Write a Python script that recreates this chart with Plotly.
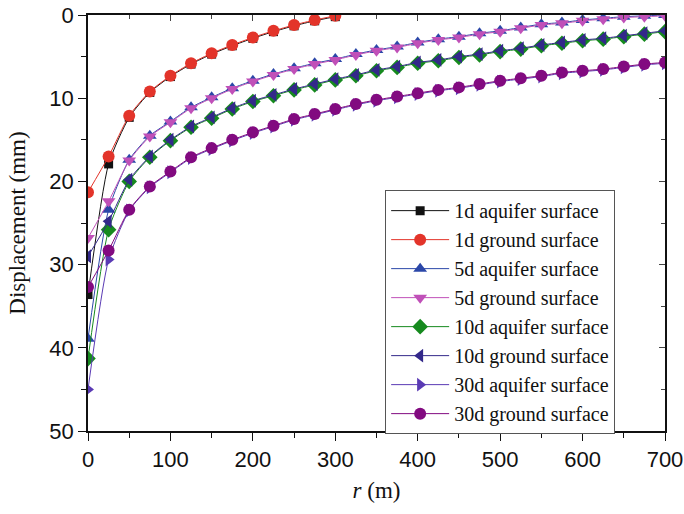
import plotly.graph_objects as go

# radial distance (m)
r_full = [0, 25, 50, 75, 100, 125, 150, 175, 200, 225, 250, 275, 300, 325, 350,
          375, 400, 425, 450, 475, 500, 525, 550, 575, 600, 625, 650, 675, 700]
r_1d = r_full[:13]

# displacement (mm)
d1_aquifer = [33.6, 17.9, 12.3, 9.3, 7.4, 5.9, 4.7, 3.7, 2.8, 2.0, 1.3, 0.7, 0.2]
d1_ground = [21.3, 17.0, 12.1, 9.2, 7.3, 5.8, 4.6, 3.6, 2.7, 1.9, 1.2, 0.6, 0.1]

d5_aquifer = [38.9, 23.4, 17.4, 14.5, 12.8, 11.1, 9.9, 8.8, 7.9, 7.1, 6.4, 5.8, 5.3,
              4.7, 4.2, 3.8, 3.3, 2.9, 2.6, 2.2, 1.9, 1.5, 1.1, 0.9, 0.6, 0.4, 0.2, 0.1, 0.0]
d5_ground = [26.8, 22.4, 17.5, 14.6, 12.9, 11.2, 10.0, 8.9, 8.0, 7.2, 6.5, 5.9, 5.4,
             4.8, 4.3, 3.9, 3.4, 3.0, 2.7, 2.3, 2.0, 1.6, 1.2, 1.0, 0.7, 0.5, 0.3, 0.2, 0.1]

d10_aquifer = [41.3, 25.8, 20.0, 17.1, 15.1, 13.5, 12.4, 11.3, 10.4, 9.7, 9.0, 8.4, 7.8,
               7.3, 6.7, 6.3, 5.8, 5.5, 5.1, 4.8, 4.4, 4.1, 3.7, 3.4, 3.1, 2.9, 2.6, 2.3, 2.0]
d10_ground = [29.0, 24.8, 19.8, 17.0, 15.0, 13.4, 12.3, 11.2, 10.3, 9.6, 8.9, 8.3, 7.7,
              7.2, 6.6, 6.2, 5.7, 5.4, 5.0, 4.7, 4.3, 4.0, 3.6, 3.3, 3.0, 2.8, 2.5, 2.2, 1.9]

d30_aquifer = [45.0, 29.4, 23.5, 20.7, 18.9, 17.2, 16.1, 15.1, 14.2, 13.4, 12.6, 12.0, 11.4,
               10.8, 10.3, 9.9, 9.5, 9.1, 8.8, 8.4, 8.0, 7.7, 7.4, 7.0, 6.8, 6.6, 6.3, 6.0, 5.8]
d30_ground = [32.7, 28.3, 23.4, 20.6, 18.8, 17.1, 16.0, 15.0, 14.1, 13.3, 12.5, 11.9, 11.3,
              10.7, 10.2, 9.8, 9.4, 9.0, 8.7, 8.3, 7.9, 7.6, 7.3, 6.9, 6.7, 6.5, 6.2, 5.9, 5.7]

series = [
    ("1d aquifer surface", r_1d, d1_aquifer, "#111111", "square", 9),
    ("1d ground surface", r_1d, d1_ground, "#e3342a", "circle", 12),
    ("5d aquifer surface", r_full, d5_aquifer, "#2b47a8", "triangle-up", 12),
    ("5d ground surface", r_full, d5_ground, "#c050b8", "triangle-down", 12),
    ("10d aquifer surface", r_full, d10_aquifer, "#168a1e", "diamond", 12),
    ("10d ground surface", r_full, d10_ground, "#33288a", "triangle-left", 12),
    ("30d aquifer surface", r_full, d30_aquifer, "#5a3ab4", "triangle-right", 12),
    ("30d ground surface", r_full, d30_ground, "#820a80", "circle", 12),
]

fig = go.Figure()
for name, xs, ys, color, symbol, size in series:
    fig.add_trace(go.Scatter(
        x=xs, y=ys, name=name, mode="lines+markers",
        line=dict(color=color, width=1, shape="spline", smoothing=0.6),
        marker=dict(symbol=symbol, size=size, color=color, line=dict(width=0)),
    ))

# empty trace so the mirrored top/right axes are drawn
fig.add_trace(go.Scatter(x=[], y=[], xaxis="x2", yaxis="y2", showlegend=False,
                         hoverinfo="skip"))

tick_font = dict(family="Liberation Sans", size=22, color="#111111")
title_font = dict(family="Liberation Serif", size=23, color="#111111")

fig.update_layout(
    width=684, height=514,
    margin=dict(l=88, r=19, t=15, b=83),
    paper_bgcolor="white", plot_bgcolor="white",
    showlegend=True,
    legend=dict(
        x=0.515, y=0.579, xanchor="left", yanchor="top",
        bgcolor="white", bordercolor="#555555", borderwidth=1,
        font=dict(family="Liberation Serif", size=20, color="#111111"),
        tracegroupgap=0, itemwidth=58,
    ),
    xaxis=dict(
        range=[0, 700], dtick=100, tick0=0, automargin=False,
        showgrid=False, zeroline=False,
        showline=True, linecolor="#111111", linewidth=1.5,
        ticks="outside", ticklen=8, tickwidth=1.2, tickcolor="#111111",
        minor=dict(dtick=50, ticks="outside", ticklen=5, tickwidth=1.2, tickcolor="#111111"),
        tickfont=tick_font,
        title=dict(text="<i>r</i> (m)", font=title_font, standoff=11),
    ),
    yaxis=dict(
        range=[50, 0], dtick=10, tick0=0, automargin=False,
        showgrid=False, zeroline=False,
        showline=True, linecolor="#111111", linewidth=1.5,
        ticks="outside", ticklen=8, tickwidth=1.2, tickcolor="#111111",
        minor=dict(dtick=5, ticks="outside", ticklen=5, tickwidth=1.2, tickcolor="#111111"),
        tickfont=tick_font,
        title=dict(text="Displacement (mm)", font=title_font, standoff=17),
    ),
    xaxis2=dict(
        overlaying="x", side="top", range=[0, 700], dtick=100, automargin=False,
        showgrid=False, zeroline=False, showticklabels=False,
        showline=True, linecolor="#111111", linewidth=1.5,
        ticks="inside", ticklen=6, tickwidth=1, tickcolor="#444444",
        minor=dict(dtick=50, ticks="inside", ticklen=4, tickwidth=1, tickcolor="#444444"),
    ),
    yaxis2=dict(
        overlaying="y", side="right", range=[50, 0], dtick=10, automargin=False,
        showgrid=False, zeroline=False, showticklabels=False,
        showline=True, linecolor="#111111", linewidth=1.5,
        ticks="inside", ticklen=6, tickwidth=1, tickcolor="#444444",
        minor=dict(dtick=5, ticks="inside", ticklen=4, tickwidth=1, tickcolor="#444444"),
    ),
)

fig.write_html("out.html")
